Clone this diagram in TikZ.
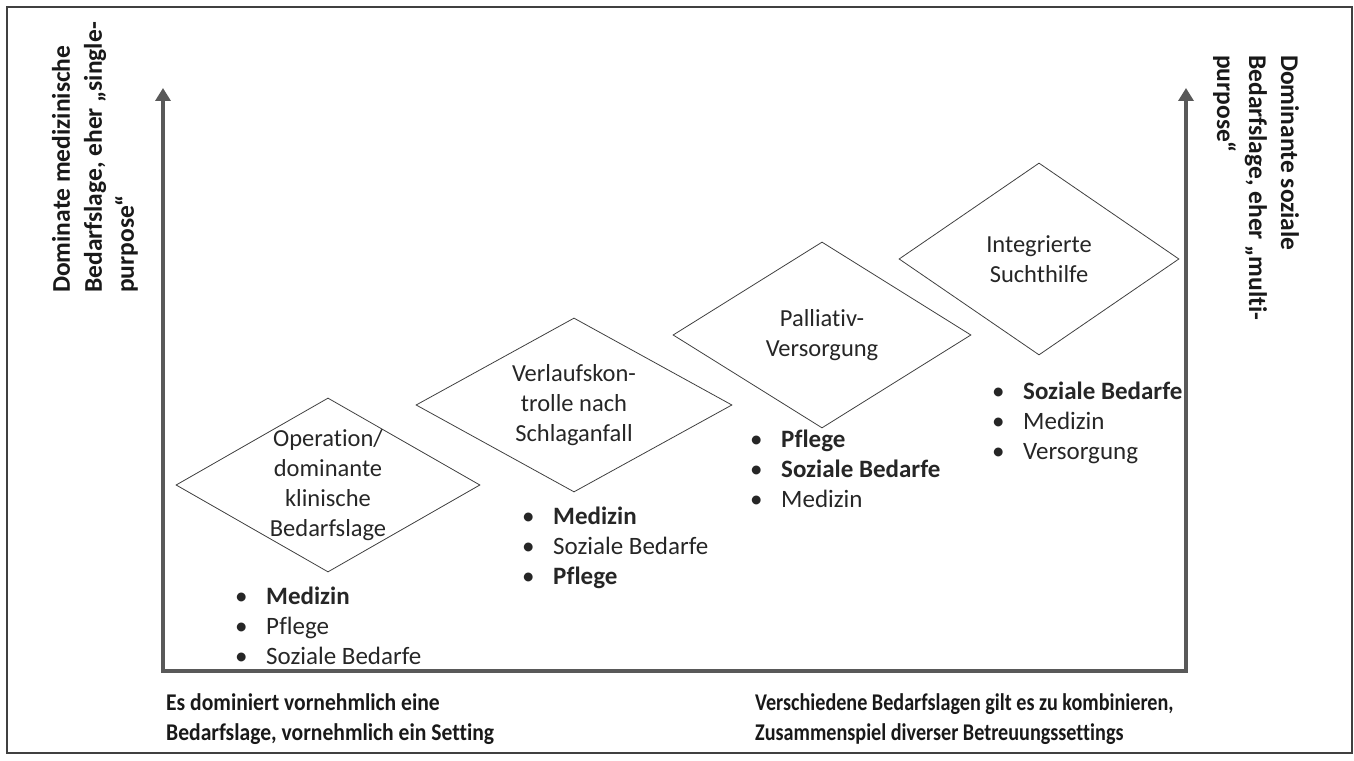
\documentclass[tikz,border=0pt]{standalone}
\usepackage{fontspec}
\setmainfont{Carlito}[Ligatures=NoCommon]
\usetikzlibrary{arrows.meta, shapes.geometric}

\newcommand{\pkt}{\makebox[31pt][l]{\textbullet}}

\begin{document}
\begin{tikzpicture}[
  x=100pt, y=100pt,
  >={Triangle[width=15pt,length=13pt]},
  raute/.style={diamond, draw=black!75, line width=0.8pt, inner sep=0pt},
  rtext/.style={align=center, inner sep=0pt, text=black!85, font=\fontsize{24.5}{30}\selectfont},
  liste/.style={align=left, anchor=west, inner sep=0pt, text=black!85, font=\fontsize{25}{30}\selectfont},
  achsentext/.style={align=left, anchor=west, inner sep=0pt, text=black!90, font=\bfseries\fontsize{25.5}{32}\selectfont},
  fusstext/.style={align=left, anchor=west, inner sep=0pt, text=black!90, font=\bfseries\fontsize{24}{30}\selectfont},
  achse/.style={draw=black!65, line width=4pt},
  rahmen/.style={draw=black!75, line width=1.5pt}
]
\useasboundingbox (0,0) rectangle (13.54,7.60);

% Frame
\draw[rahmen] (0.07,0.07) rectangle (13.52,7.53);

% Axes
\coordinate (o) at (1.63,0.89);
\coordinate (lt) at (1.63,6.72);
\coordinate (ro) at (11.86,0.89);
\coordinate (rt) at (11.86,6.72);
\draw[achse, <->] (lt) -- (o) -- (ro) -- (rt);

% Diamonds
\node[raute, minimum width=304pt, minimum height=174pt] (d1) at (3.28,2.75) {};
\node[raute, minimum width=316pt, minimum height=174pt] (d2) at (5.74,3.55) {};
\node[raute, minimum width=298pt, minimum height=186pt] (d3) at (8.22,4.25) {};
\node[raute, minimum width=280pt, minimum height=192pt] (d4) at (10.39,5.01) {};

\node[rtext] (t1) at (d1) {Operation/\\dominante\\klinische\\Bedarfslage};
\node[rtext] (t2) at (d2) {Verlaufskon-\\trolle nach\\Schlaganfall};
\node[rtext] (t3) at (d3) {Palliativ-\\Versorgung};
\node[rtext] (t4) at (d4) {Integrierte\\Suchthilfe};

% Lists
\node[liste] (l1) at (2.35,1.34) {\pkt\textbf{Medizin}\\\pkt Pflege\\\pkt Soziale Bedarfe};
\node[liste] (l2) at (5.22,2.12) {\pkt\textbf{Medizin}\\\pkt Soziale Bedarfe\\\pkt\textbf{Pflege}};
\node[liste] (l3) at (7.50,2.91) {\pkt\textbf{Pflege}\\\pkt\textbf{Soziale Bedarfe}\\\pkt Medizin};
\node[liste] (l4) at (9.92,3.37) {\pkt\textbf{Soziale Bedarfe}\\\pkt Medizin\\\pkt Versorgung};

% Axis labels
\node[achsentext, rotate=90] (ylinks) at (0.95,4.67) {Dominate medizinische\\Bedarfslage, eher „single-\\purpose“};
\node[achsentext, rotate=-90] (yrechts) at (12.56,7.05) {Dominante soziale\\Bedarfslage, eher „multi-\\purpose“};

\node[fusstext, transform shape, xscale=0.9] (xlinks) at (1.66,0.405) {Es dominiert vornehmlich eine\\Bedarfslage, vornehmlich ein Setting};
\node[fusstext, transform shape, xscale=0.84] (xrechts) at (7.55,0.405) {Verschiedene Bedarfslagen gilt es zu kombinieren,\\Zusammenspiel diverser Betreuungssettings};

\end{tikzpicture}
\end{document}
